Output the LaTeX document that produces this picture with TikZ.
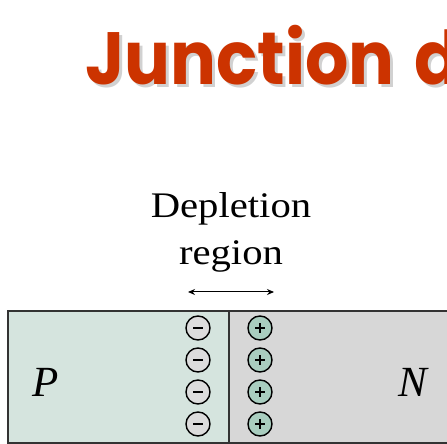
\documentclass[tikz,border=0pt]{standalone}
\usepackage{fontspec}
\setmainfont{Liberation Serif}
\newfontfamily\titlefont{Poppins}
\usetikzlibrary{arrows.meta}
\definecolor{titlered}{HTML}{CC3300}
\definecolor{pfill}{HTML}{D5E4DE}
\definecolor{nfill}{HTML}{D7D7D7}
\definecolor{plusfill}{HTML}{A9CDBF}
\definecolor{minusfill}{HTML}{DCDCDC}
\definecolor{edge}{HTML}{333333}
\tikzset{
  titletext/.style={anchor=base west, inner sep=0pt, xscale=0.92, font=\titlefont\bfseries\fontsize{74}{74}\selectfont},
  deptext/.style={font=\fontsize{36}{36}\selectfont, inner sep=0pt, anchor=base, xscale=1.13},
  charge/.style={circle, draw=black, line width=1.4pt, minimum size=24pt, inner sep=0pt},
  negcharge/.style={charge, fill=minusfill},
  poscharge/.style={charge, fill=plusfill},
  sign/.style={line width=1.6pt},
  lbl/.style={font=\fontsize{43}{43}\selectfont\itshape, inner sep=0pt},
}
\begin{document}
\begin{tikzpicture}[x=1pt,y=1pt]
\useasboundingbox (0,0) rectangle (447,444);
\fill[white] (0,0) rectangle (447,444);
% title
\begin{scope}
\clip (0,0) rectangle (447,444);
\node (shadow) [titletext, text=black!18] at (88,356) {Junction\hspace{6pt} d};
\node (title) [titletext, text=titlered] at (85,359) {Junction\hspace{6pt} d};
\end{scope}
% depletion label
\node (dep1) [deptext] at (231,226) {Depletion};
\node (dep2) [deptext] at (231,179) {region};
\coordinate (al) at (188,152);
\coordinate (ar) at (274,152);
\draw[{Stealth[length=7pt,width=6pt]}-{Stealth[length=7pt,width=6pt]}, line width=1pt] (al) -- (ar);
% regions
\fill[pfill] (8,1) rectangle (229,133);
\fill[nfill] (229,1) rectangle (447,133);
\draw[edge, line width=1.6pt] (447,133) -- (8,133) -- (8,1) -- (447,1);
\draw[edge, line width=1.6pt] (229,1) -- (229,133);
\node (P) [lbl] at (46,62) {P};
\node (N) [lbl] at (413,62) {N};
% charges
\foreach \k/\yy in {1/116,2/84,3/52,4/20}{
  \node (m\k) [negcharge] at (198,\yy) {};
  \draw[sign] ([xshift=-5pt]m\k.center) -- ([xshift=5pt]m\k.center);
  \node (p\k) [poscharge] at (260,\yy) {};
  \draw[sign] ([xshift=-5pt]p\k.center) -- ([xshift=5pt]p\k.center);
  \draw[sign] ([yshift=-5pt]p\k.center) -- ([yshift=5pt]p\k.center);
}
\end{tikzpicture}
\end{document}
